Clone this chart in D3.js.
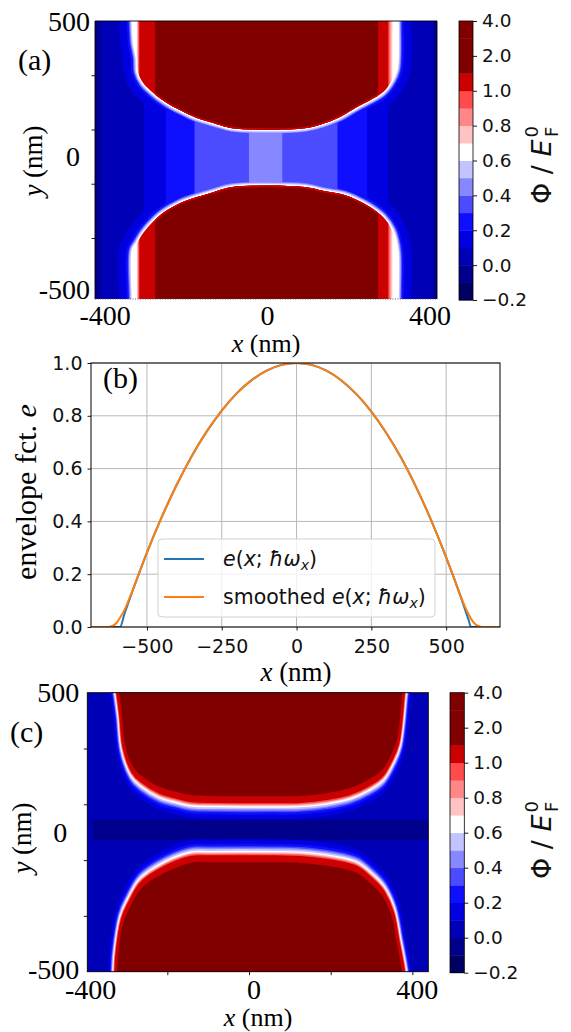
<!DOCTYPE html>
<html>
<head>
<meta charset="utf-8">
<script src="https://cdnjs.cloudflare.com/ajax/libs/d3/7.8.5/d3.min.js"></script>
<style>
  body { margin: 0; background: #fff; }
  svg { display: block; }
</style>
</head>
<body>
<svg id="fig" width="571" height="1032"></svg>
<script>
var svg = d3.select("#fig");
var defs = svg.append("defs");

var SERIF = "Liberation Serif, Times New Roman, serif";
var SANS = "DejaVu Sans, sans-serif";

// contour levels of the two potential maps, and colorbar ticks
var levels = [-0.2, -0.1, 0.0, 0.1, 0.2, 0.3, 0.4, 0.5, 0.6, 0.7, 0.8, 0.9, 1.0, 1.5, 2.0, 3.0, 4.0];
var cbarTicks = [4.0, 2.0, 1.0, 0.8, 0.6, 0.4, 0.2, 0.0, -0.2];

// (a) vertical stripes in the constriction: [band, xFrom, xTo] in nm
var stripesA = [[1, -425, 417], [2, -412, 408], [3, -305, 297], [4, -251, 245], [5, -180, 172], [6, -46, 36]];
// (a) bands inside the gates: [band, xFrom, xTo]
var gateStripesA = [[9, -321, 307], [10, -320, 303], [11, -318, 300], [12, -316, 297], [15, -277, 272]];
// (a) halo around the gate edges: [band, width in nm]
var haloA = [[3, 35], [4, 16], [5, 11], [6, 9], [7, 7], [8, 4]];
// (a) gate outlines (x, y) nm
var gateTopA = [[-331, 700], [-331, 500], [-328, 420], [-321, 363], [-319, 312], [-306, 271], [-289, 245],
  [-272, 223], [-258, 208], [-235, 186], [-215, 171], [-191, 153], [-174, 142], [-134, 124], [-87, 105],
  [92, 105], [142, 124], [178, 146], [220, 183], [252, 208], [284, 238], [306, 282], [316, 319],
  [319, 363], [319, 500], [319, 700]];
var gateBottomA = [[-331, -700], [-331, -525], [-331, -345], [-321, -319], [-306, -282], [-285, -245],
  [-258, -208], [-215, -171], [-174, -149], [-134, -131], [-87, -112], [92, -112], [142, -128],
  [186, -140], [220, -160], [252, -186], [284, -223], [306, -271], [314, -308], [319, -356],
  [319, -525], [319, -700]];

// (b) envelope function e(x) and smoothed version
var envX = [-687, -590, -575, -550, -525, -500, -450, -400, -350, -300, -250, -200, -150, -100, -50, 0,
  50, 100, 150, 200, 250, 300, 350, 400, 450, 500, 525, 550, 575, 583, 680];
var envY = [0, 0, 0.05, 0.131, 0.208, 0.282, 0.418, 0.54, 0.648, 0.741, 0.82, 0.885, 0.935, 0.971, 0.993, 1.0,
  0.993, 0.971, 0.934, 0.882, 0.816, 0.735, 0.64, 0.529, 0.404, 0.264, 0.189, 0.11, 0.027, 0, 0];
var smoothX = [-687, -630, -620, -610, -600, -590, -575, -560, -550, -525, -500, -450, -400, -350, -300,
  -250, -200, -150, -100, -50, 0, 50, 100, 150, 200, 250, 300, 350, 400, 450, 500, 525, 550, 560, 575,
  585, 595, 605, 615, 625, 680];
var smoothY = [0, 0, 0.002, 0.007, 0.018, 0.035, 0.065, 0.105, 0.133, 0.208, 0.282, 0.418, 0.54, 0.648, 0.741,
  0.82, 0.885, 0.935, 0.971, 0.993, 1.0, 0.993, 0.971, 0.934, 0.882, 0.816, 0.735, 0.64, 0.529, 0.404, 0.264,
  0.19, 0.113, 0.085, 0.048, 0.028, 0.013, 0.005, 0.001, 0, 0];

// (c) gate outlines (edge of the dark red region), nm
var gateTopC = [[-324, 700], [-322, 540], [-318, 500], [-311, 420], [-304, 316], [-284, 234], [-259, 198],
  [-218, 162], [-176, 144], [-144, 133], [-100, 130], [60, 129], [125, 130], [191, 140], [247, 158],
  [291, 187], [326, 223], [345, 270], [362, 330], [375, 500], [378, 540], [380, 700]];
var gateBottomC = [[-327, -700], [-325, -540], [-323, -500], [-321, -447], [-308, -325], [-291, -268],
  [-267, -207], [-225, -160], [-144, -110], [-100, -108], [60, -108], [125, -110], [206, -124],
  [264, -146], [296, -182], [328, -232], [350, -304], [362, -397], [375, -500], [378, -540], [380, -700]];
// (c) distance of each band edge from the gate edge: [band, nm]
var haloC = [[3, 82], [4, 66], [5, 57], [6, 52], [7, 47], [8, 41], [9, 36], [10, 32], [11, 29], [12, 25]];
// (c) dark band along the channel: corners (x, y) nm
var stripC = [[-383, -28], [439, 44]];

// ticks and labels
var mapTickY = [300, 100, -100, -300];
var mapLabelY = [500, 0, -500];
var mapLabelX = [-400, 0, 400];
var mapTickXC = [-200, 0, 200, 400];
var envTickX = [-500, -250, 0, 250, 500];
var envTickY = [0, 0.2, 0.4, 0.6, 0.8, 1.0];

// seismic colormap normalised on [-0.2, 1.5]
var norm = d3.scaleLinear().domain([-0.2, 1.5]).range([0, 1]).clamp(true);
var seismic = d3.scaleLinear()
  .domain([0, 0.25, 0.5, 0.75, 1])
  .range(["#00004d", "#0000ff", "#ffffff", "#ff0000", "#800000"]);
function bandColor(k) {
  return seismic(norm((levels[k] + levels[k + 1]) / 2));
}

// scales
var xA = d3.scaleLinear().domain([-425, 417]).range([95, 437]);
var yA = d3.scaleLinear().domain([-525, 500]).range([299, 21]);
var xB = d3.scaleLinear().domain([-687, 680]).range([91, 500]);
var yB = d3.scaleLinear().domain([0, 1]).range([627, 363]);
var xC = d3.scaleLinear().domain([-396, 439]).range([87.3, 428.3]);
var yC = d3.scaleLinear().domain([-500, 500]).range([971.7, 692.7]);

function outline(pts, xs, ys, sx) {
  return d3.line()
    .x(d => xs(d[0]) / sx)
    .y(d => ys(d[1]))
    .curve(d3.curveCatmullRom)(pts) + "Z";
}

function clipRect(id, xs, ys) {
  defs.append("clipPath").attr("id", id).append("rect")
    .attr("x", xs.range()[0]).attr("y", ys.range()[1])
    .attr("width", xs.range()[1] - xs.range()[0])
    .attr("height", ys.range()[0] - ys.range()[1]);
}

// ---------------- panel (a) ----------------
clipRect("clipA", xA, yA);
var mapA = svg.append("g").attr("clip-path", "url(#clipA)");
var gatesA = [gateTopA, gateBottomA];
var gateClipA = defs.append("clipPath").attr("id", "gatesA");
gatesA.forEach(g => gateClipA.append("path").attr("d", outline(g, xA, yA, 1)));
var insideA = mapA.append("g");

for (var k = 1; k <= 15; k++) {
  stripesA.filter(s => s[0] === k).forEach(function (s) {
    insideA.append("rect")
      .attr("x", xA(s[1])).attr("y", 0)
      .attr("width", xA(s[2]) - xA(s[1])).attr("height", 320)
      .attr("fill", bandColor(k));
  });
  haloA.filter(h => h[0] === k).forEach(function (h) {
    gatesA.forEach(function (g) {
      insideA.append("path")
        .attr("d", outline(g, xA, yA, 1))
        .attr("fill", bandColor(k))
        .attr("stroke", bandColor(k))
        .attr("stroke-linejoin", "round")
        .attr("stroke-width", 2 * (xA(h[1]) - xA(0)));
    });
  });
  gateStripesA.filter(s => s[0] === k).forEach(function (s) {
    insideA.append("rect")
      .attr("clip-path", "url(#gatesA)")
      .attr("x", xA(s[1])).attr("y", 0)
      .attr("width", xA(s[2]) - xA(s[1])).attr("height", 320)
      .attr("fill", bandColor(k));
  });
}
// thin red rim along the rounded gate edges
var darkSpan = gateStripesA.find(s => s[0] === 15);
defs.append("clipPath").attr("id", "darkA").append("rect")
  .attr("x", xA(darkSpan[1])).attr("y", 0)
  .attr("width", xA(darkSpan[2]) - xA(darkSpan[1])).attr("height", 320);
var rimA = mapA.append("g").attr("clip-path", "url(#gatesA)").append("g").attr("clip-path", "url(#darkA)");
gatesA.forEach(function (g) {
  rimA.append("path").attr("d", outline(g, xA, yA, 1))
    .attr("fill", "none").attr("stroke", bandColor(12)).attr("stroke-width", 3);
});

// frame (a)
var frA = svg.append("g").attr("stroke", "#000").attr("stroke-width", 0.9);
frA.append("line").attr("x1", 95).attr("x2", 437).attr("y1", 21).attr("y2", 21);
frA.append("line").attr("x1", 95).attr("x2", 95).attr("y1", 21).attr("y2", 299);
frA.append("line").attr("x1", 437).attr("x2", 437).attr("y1", 21).attr("y2", 299);
frA.append("line").attr("x1", 95).attr("x2", 437).attr("y1", 299).attr("y2", 299)
  .attr("stroke-dasharray", "1,1.5").attr("stroke", "#555");

function mapAxes(xs, ys, labelGap, zeroGap, ticksX, xShift, xBase) {
  var ya = svg.append("g").attr("transform", `translate(${xs.range()[0]},0)`)
    .call(d3.axisLeft(ys).tickValues(mapTickY).tickFormat("").tickSize(3.5));
  ya.select(".domain").remove();
  ya.selectAll("line").attr("stroke-width", 0.9);
  if (ticksX) {
    var xa = svg.append("g").attr("transform", `translate(0,${ys.range()[0]})`)
      .call(d3.axisBottom(xs).tickValues(ticksX).tickFormat("").tickSize(3.5));
    xa.select(".domain").remove();
    xa.selectAll("line").attr("stroke-width", 0.9);
  }
  svg.selectAll(null).data(mapLabelY).enter().append("text")
    .attr("x", d => xs.range()[0] - (d === 0 ? zeroGap : labelGap))
    .attr("y", d => ys(d))
    .attr("dy", d => d < 0 ? "0.26em" : "0.34em")
    .attr("text-anchor", "end")
    .attr("font-family", SERIF).attr("font-size", 28)
    .text(d => String(d));
  svg.selectAll(null).data(mapLabelX).enter().append("text")
    .attr("x", d => xs(d) + xShift)
    .attr("y", xBase)
    .attr("text-anchor", "middle")
    .attr("font-family", SERIF).attr("font-size", 28)
    .text(d => String(d));
}
mapAxes(xA, yA, 5, 15, null, 0, 325);

function serifLabel(x, y, rot, parts, size) {
  var t = svg.append("text")
    .attr("transform", `translate(${x},${y})` + (rot ? " rotate(-90)" : ""))
    .attr("text-anchor", "middle")
    .attr("font-family", SERIF).attr("font-size", size);
  parts.forEach(function (p) {
    var s = t.append("tspan").text(p[0]);
    if (p[1]) s.attr("font-style", "italic");
  });
  return t;
}
serifLabel(266, 352, false, [["x", 1], [" (nm)", 0]], 26);
serifLabel(42, 161, true, [["y", 1], [" (nm)", 0]], 27);
svg.append("text").attr("x", 18).attr("y", 70).attr("font-family", SERIF).attr("font-size", 30).text("(a)");

// colorbar
function colorbar(x0, top, bottom, w, labelX, labelY) {
  var cb = d3.scaleLinear().domain([0, levels.length - 1]).range([bottom, top]);
  var g = svg.append("g");
  g.selectAll("rect.band").data(d3.range(levels.length - 1)).enter().append("rect")
    .attr("class", "band")
    .attr("x", x0).attr("y", k => cb(k + 1))
    .attr("width", w).attr("height", k => cb(k) - cb(k + 1) + 0.4)
    .attr("fill", k => bandColor(k));
  g.append("rect").attr("x", x0).attr("y", top).attr("width", w).attr("height", bottom - top)
    .attr("fill", "none").attr("stroke", "#000").attr("stroke-width", 0.8);
  var ax = g.append("g").attr("transform", `translate(${x0 + w},0)`)
    .call(d3.axisRight(cb)
      .tickValues(cbarTicks.map(v => levels.indexOf(v)))
      .tickFormat(i => d3.format(".1f")(levels[i]))
      .tickSize(4).tickPadding(5));
  ax.select(".domain").remove();
  ax.selectAll("line").attr("stroke-width", 0.9);
  ax.selectAll("text").attr("font-family", SANS).attr("font-size", 18.5).attr("fill", "#111");

  var t = svg.append("text")
    .attr("transform", `translate(${labelX},${labelY}) rotate(-90)`)
    .attr("text-anchor", "middle")
    .attr("font-family", SANS).attr("font-size", 27).attr("fill", "#111");
  t.append("tspan").text("Φ / ");
  t.append("tspan").attr("font-style", "italic").text("E");
  t.append("tspan").attr("font-size", 18).attr("dx", 2).attr("dy", -13).text("0");
  t.append("tspan").attr("font-size", 18).attr("dx", -11).attr("dy", 20).text("F");
}
colorbar(459, 21, 300, 14, 551, 165);

// ---------------- panel (b) ----------------
clipRect("clipB", xB, yB);
var grid = svg.append("g").attr("stroke", "#b8b8b8").attr("stroke-width", 1);
grid.selectAll(null).data(envTickX).enter().append("line")
  .attr("x1", d => xB(d)).attr("x2", d => xB(d)).attr("y1", 363).attr("y2", 627);
grid.selectAll(null).data(envTickY).enter().append("line")
  .attr("x1", 91).attr("x2", 500).attr("y1", d => yB(d)).attr("y2", d => yB(d));

var lineB = d3.line().x(d => xB(d[0])).y(d => yB(d[1])).curve(d3.curveMonotoneX);
var plotB = svg.append("g").attr("clip-path", "url(#clipB)");
plotB.append("path").attr("d", lineB(d3.zip(envX, envY)))
  .attr("fill", "none").attr("stroke", "#1f77b4").attr("stroke-width", 2);
plotB.append("path").attr("d", lineB(d3.zip(smoothX, smoothY)))
  .attr("fill", "none").attr("stroke", "#ff7f0e").attr("stroke-width", 2);

svg.append("rect").attr("x", 91).attr("y", 363).attr("width", 409).attr("height", 264)
  .attr("fill", "none").attr("stroke", "#000").attr("stroke-width", 1);

var yaB = svg.append("g").attr("transform", "translate(91,0)")
  .call(d3.axisLeft(yB).tickValues(envTickY).tickFormat(d3.format(".1f")).tickSize(3.5).tickPadding(5));
var xaB = svg.append("g").attr("transform", "translate(0,627)")
  .call(d3.axisBottom(xB).tickValues(envTickX).tickFormat(d3.format("d")).tickSize(3.5).tickPadding(9));
[yaB, xaB].forEach(function (a) {
  a.select(".domain").remove();
  a.selectAll("line").attr("stroke-width", 0.9);
  a.selectAll("text").attr("font-family", SANS).attr("font-size", 19).attr("fill", "#111");
});

// legend
var lg = svg.append("g");
lg.append("rect").attr("x", 158).attr("y", 539).attr("width", 277).attr("height", 78)
  .attr("rx", 4).attr("fill", "#fff").attr("fill-opacity", 0.8)
  .attr("stroke", "#d0d0d0").attr("stroke-width", 1);
var legendColors = ["#1f77b4", "#ff7f0e"];
var legendPrefix = ["", "smoothed "];
[559, 597].forEach(function (ly, i) {
  lg.append("line").attr("x1", 164).attr("x2", 204).attr("y1", ly).attr("y2", ly)
    .attr("stroke", legendColors[i]).attr("stroke-width", 2);
  var t = lg.append("text").attr("x", 223).attr("y", ly + 7)
    .attr("font-family", SANS).attr("font-size", 20.5).attr("fill", "#111");
  if (legendPrefix[i]) t.append("tspan").text(legendPrefix[i]);
  t.append("tspan").attr("font-style", "italic").text("e");
  t.append("tspan").text("(");
  t.append("tspan").attr("font-style", "italic").text("x");
  t.append("tspan").text("; ");
  t.append("tspan").attr("font-style", "italic").text("ħω");
  t.append("tspan").attr("font-style", "italic").attr("font-size", 14).attr("dy", 4).text("x");
  t.append("tspan").attr("dy", -4).text(")");
});

serifLabel(296, 681, false, [["x", 1], [" (nm)", 0]], 27);
serifLabel(36, 492, true, [["envelope fct. ", 0], ["e", 1]], 30);
svg.append("text").attr("x", 103).attr("y", 388).attr("font-family", SERIF).attr("font-size", 30).text("(b)");

// ---------------- panel (c) ----------------
clipRect("clipC", xC, yC);
var mapC = svg.append("g").attr("clip-path", "url(#clipC)");
mapC.append("rect").attr("x", 80).attr("y", 680).attr("width", 360).attr("height", 300)
  .attr("fill", bandColor(2));
mapC.append("rect")
  .attr("x", xC(stripC[0][0])).attr("y", yC(stripC[1][1]))
  .attr("width", xC(stripC[1][0]) - xC(stripC[0][0]))
  .attr("height", yC(stripC[0][1]) - yC(stripC[1][1]))
  .attr("fill", bandColor(1));
var sideRatioC = 0.4;
var haloGroupC = mapC.append("g").attr("transform", `scale(${sideRatioC},1)`);
haloC.forEach(function (h) {
  [gateTopC, gateBottomC].forEach(function (g) {
    haloGroupC.append("path")
      .attr("d", outline(g, xC, yC, sideRatioC))
      .attr("fill", bandColor(h[0]))
      .attr("stroke", bandColor(h[0]))
      .attr("stroke-linejoin", "round")
      .attr("stroke-width", 2 * (yC(0) - yC(h[1])));
  });
});
[gateTopC, gateBottomC].forEach(function (g) {
  mapC.append("path").attr("d", outline(g, xC, yC, 1)).attr("fill", bandColor(15));
});
svg.append("rect").attr("x", 87.3).attr("y", 692.7).attr("width", 341).attr("height", 279)
  .attr("fill", "none").attr("stroke", "#000").attr("stroke-width", 0.9);

mapAxes(xC, yC, 8, 20, mapTickXC, 5, 999);
serifLabel(258, 1026, false, [["x", 1], [" (nm)", 0]], 26);
serifLabel(31, 838, true, [["y", 1], [" (nm)", 0]], 27);
svg.append("text").attr("x", 10).attr("y", 742).attr("font-family", SERIF).attr("font-size", 30).text("(c)");
colorbar(450, 692.7, 972.7, 14.3, 551, 840);
</script>
</body>
</html>
